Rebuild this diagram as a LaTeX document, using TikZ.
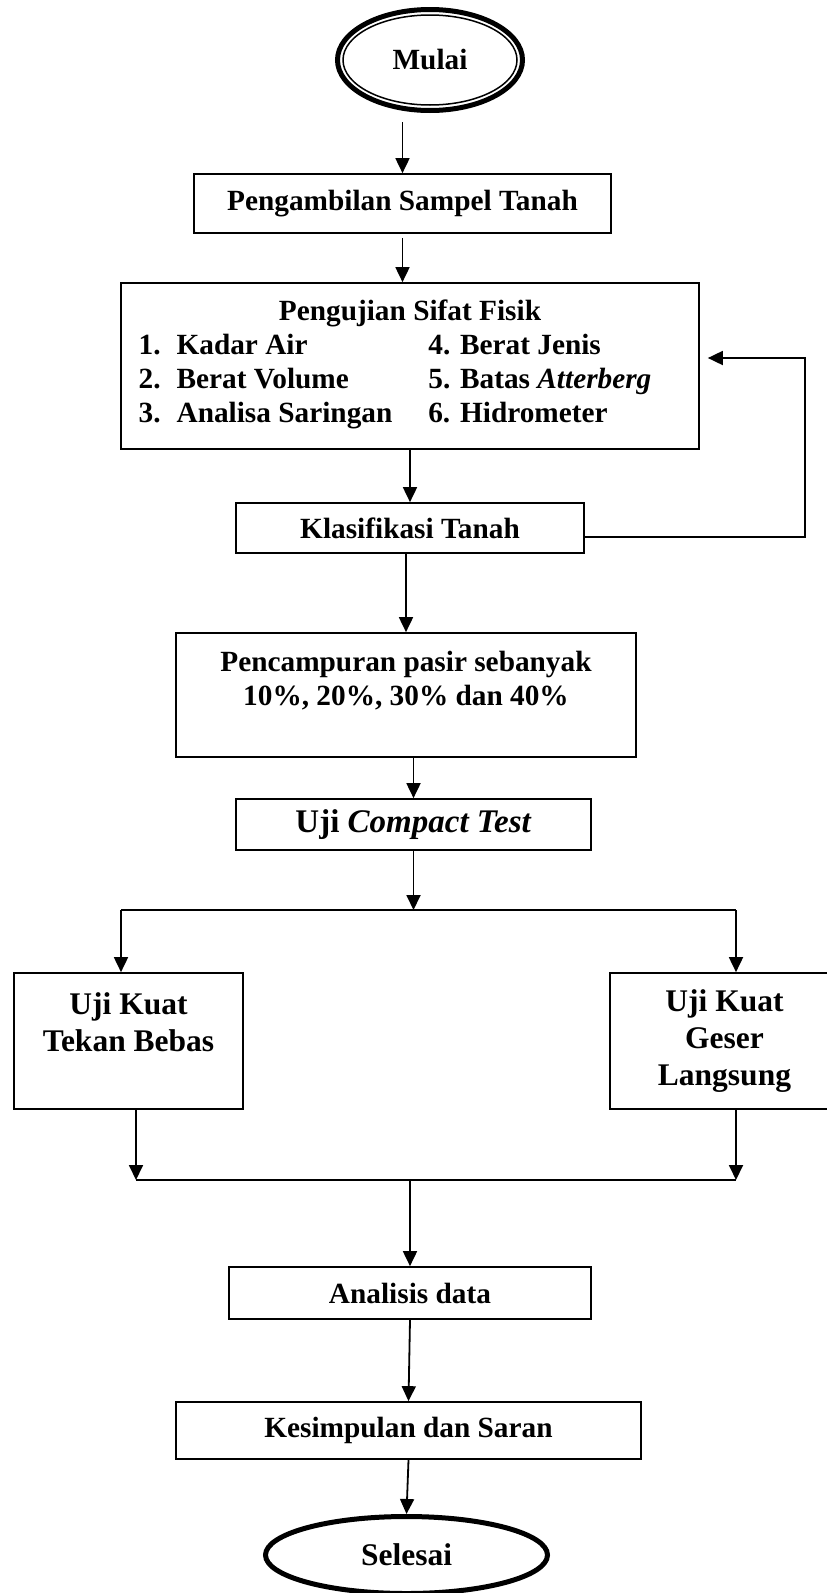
\documentclass[tikz,border=0pt]{standalone}
\usepackage{fontspec}
\setmainfont{Liberation Serif}
\usetikzlibrary{shapes.geometric,arrows.meta}

\begin{document}
\begin{tikzpicture}[x=1pt,y=-1pt,
 kotak/.style={draw,line width=1.7pt,rectangle,inner sep=0pt,align=center,font=\fontsize{29.3}{34}\selectfont\bfseries},
 kotakbesar/.style={kotak,font=\fontsize{31.5}{37}\selectfont\bfseries},
 oval/.style={draw,ellipse,line width=5pt,inner sep=0pt,font=\fontsize{29.3}{34}\selectfont\bfseries},
 panah/.style={line width=1.8pt,-{Triangle[length=15pt,width=14pt]}},
 garis/.style={line width=1.8pt}]
 \useasboundingbox (0,0) rectangle (827,1593);
 \node[oval,minimum width=185pt,minimum height=101pt] (mulai) at (430,60) {Mulai};
 \draw[line width=1.5pt] (mulai.center) ellipse [x radius=87pt, y radius=45pt];
 \node[kotak,minimum width=417pt,minimum height=59pt] (ambil) at (402.5,203.5) {Pengambilan Sampel Tanah};
 \node[kotak,minimum width=578pt,minimum height=166pt] (fisik) at (410,366) {Pengujian Sifat Fisik\\
  \begin{tabular}[t]{@{}l@{\hspace{16pt}}l@{\hspace{36pt}}l@{\hspace{30pt}}}
   1. & Kadar Air & 4. Berat Jenis\\
   2. & Berat Volume & 5. Batas \textit{Atterberg}\\
   3. & Analisa Saringan & 6. Hidrometer
  \end{tabular}};
 \node[kotak,minimum width=348pt,minimum height=50pt] (klas) at (410,528) {Klasifikasi Tanah};
 \node[kotak,minimum width=460pt,minimum height=124pt] (campur) at (406,695) {Pencampuran pasir sebanyak\\10\%, 20\%, 30\% dan 40\%\\\mbox{}};
 \node[kotak,minimum width=355pt,minimum height=51pt,font=\fontsize{33}{38}\selectfont\bfseries] (compact) at (413.5,824.5) {Uji \textit{Compact Test}};
 \node[kotakbesar,minimum width=229pt,minimum height=136pt] (tekan) at (128.5,1041) {Uji Kuat\\Tekan Bebas\\\mbox{}};
 \node[kotakbesar,minimum width=229pt,minimum height=136pt] (geser) at (724.5,1041) {Uji Kuat\\Geser\\Langsung};
 \node[kotak,minimum width=362pt,minimum height=52pt] (analisis) at (410,1293) {Analisis data};
 \node[kotak,minimum width=465pt,minimum height=57pt] (simpul) at (408.5,1430.5) {Kesimpulan dan Saran};
 \node[oval,minimum width=282pt,minimum height=77pt,font=\fontsize{31.5}{37}\selectfont\bfseries] (selesai) at (406.5,1555) {Selesai};
 \coordinate (balik) at (805,358);
 \coordinate (bkiri) at (121,910);
 \coordinate (bkanan) at (736,910);
 \coordinate (gkiri) at (136,1180);
 \coordinate (gkanan) at (736,1180);
 \draw[panah,shorten <=9pt] (mulai.south -| ambil.north) -- (ambil.north);
 \draw[panah,shorten <=4pt] (ambil.south) -- (ambil.south |- fisik.north);
 \draw[panah] (fisik.south) -- (klas.north);
 \draw[panah,shorten >=8pt] ([yshift=-9pt]klas.east) -| (balik) -- (balik -| fisik.east);
 \draw[panah] (campur.north |- klas.south) -- (campur.north);
 \draw[panah] (compact.north |- campur.south) -- (compact.north);
 \draw[garis] (bkiri) -- (bkanan);
 \draw[panah] (compact.south) -- (compact.south |- bkiri);
 \draw[panah] (bkiri) -- (bkiri |- tekan.north);
 \draw[panah] (bkanan) -- (bkanan |- geser.north);
 \draw[panah] (gkiri |- tekan.south) -- (gkiri);
 \draw[panah] (gkanan |- geser.south) -- (gkanan);
 \draw[garis] (gkiri) -- (gkanan);
 \draw[panah] (analisis.north |- gkiri) -- (analisis.north);
 \draw[panah] (analisis.south) -- (simpul.north);
 \draw[panah] (simpul.south) -- (selesai.north);
\end{tikzpicture}
\end{document}
